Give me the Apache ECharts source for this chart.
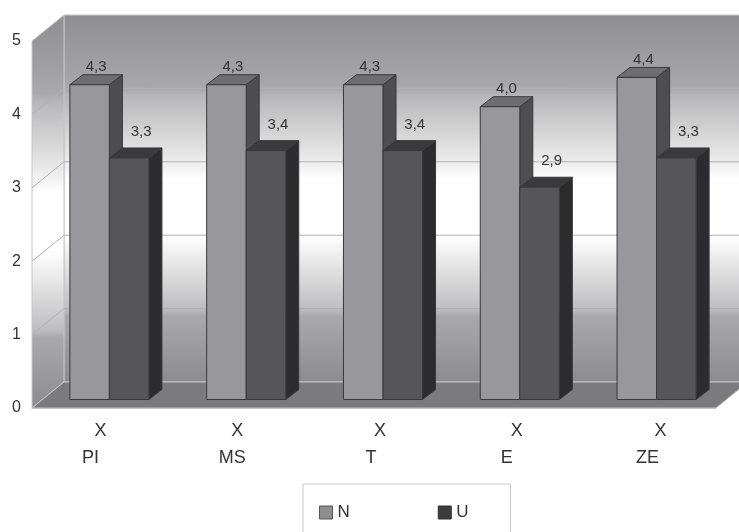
<!DOCTYPE html>
<html>
<head>
<meta charset="utf-8">
<style>html,body{margin:0;background:#fff}#chart{width:739px;height:532px}</style>
<script src="https://cdn.jsdelivr.net/npm/echarts@6/dist/echarts.min.js"></script>
</head>
<body>
<div id="chart"></div>
<script>
const categories = ['PI', 'MS', 'T', 'E', 'ZE'];
const nValues = [4.3, 4.3, 4.3, 4.0, 4.4];
const uValues = [3.3, 3.4, 3.4, 2.9, 3.3];
const yTicks = [0, 1, 2, 3, 4, 5];

// fake 3D: how far the back wall and the bar tops are pushed
const wallDepth = [32, -26];
const barDepth = [13, -10];
const barShare = 0.289;
const font = '"Liberation Sans", Arial, sans-serif';

// x labels in the picture are not centred on their bands
const markShift = [0, 0, 6, 6, 13];
const nameShift = [-10, -5, -3, -4, 0];

const pad = s => (s >= 0 ? [0, 0, 0, 2 * s] : [0, -2 * s, 0, 0]);
const rich = {};
categories.forEach((c, i) => {
  rich['x' + i] = { fontSize: 18, lineHeight: 27, color: '#333', fontFamily: font, padding: pad(markShift[i]) };
  rich['n' + i] = { fontSize: 18, lineHeight: 27, color: '#333', fontFamily: font, padding: pad(nameShift[i]) };
});

const wallFill = () => new echarts.graphic.LinearGradient(0, 0, 0, 1, [
  { offset: 0, color: '#8e8e90' },
  { offset: 0.2, color: '#a9a9ab' },
  { offset: 0.22, color: '#b6b6b8' },
  { offset: 0.4, color: '#ececec' },
  { offset: 0.45, color: '#ffffff' },
  { offset: 0.6, color: '#ffffff' },
  { offset: 0.8, color: '#bebec0' },
  { offset: 0.82, color: '#a9a9ab' },
  { offset: 1, color: '#8c8c8e' }
]);

function renderWalls(params) {
  const r = params.coordSys;
  const [dx, dy] = wallDepth;
  const l = r.x, t = r.y, b = r.y + r.height, e = r.x + r.width;
  const poly = (points, fill) => ({
    type: 'polygon',
    shape: { points },
    style: { fill, stroke: '#c4c4c6', lineWidth: 1 }
  });
  return {
    type: 'group',
    children: [
      poly([[l + dx, t + dy], [e + dx, t + dy], [e + dx, b + dy], [l + dx, b + dy]], wallFill()),
      poly([[l, t], [l + dx, t + dy], [l + dx, b + dy], [l, b]], wallFill()),
      poly([[l, b], [l + dx, b + dy], [e + dx, b + dy], [e, b]], '#7b7b7d')
    ]
  };
}

function renderGridLine(params, api) {
  const p = api.coord([0, api.value(1)]);
  const r = params.coordSys;
  const [dx, dy] = wallDepth;
  return {
    type: 'polyline',
    shape: { points: [[r.x, p[1]], [r.x + dx, p[1] + dy], [r.x + r.width + dx, p[1] + dy]] },
    style: { fill: null, stroke: '#b2b2b4', lineWidth: 1 }
  };
}

function barRenderer(side, colors, labelDx, labelDy) {
  return (params, api) => {
    const top = api.coord([api.value(0), api.value(1)]);
    const base = api.coord([api.value(0), 0]);
    const w = api.size([1, 0])[0] * barShare;
    const x0 = side === 0 ? top[0] - w : top[0];
    const x1 = x0 + w;
    const [dx, dy] = barDepth;
    const stroke = { stroke: '#39393b', lineWidth: 1, lineJoin: 'round' };
    return {
      type: 'group',
      children: [
        { type: 'polygon', shape: { points: [[x1, top[1]], [x1 + dx, top[1] + dy], [x1 + dx, base[1] + dy], [x1, base[1]]] }, style: { fill: colors.side, ...stroke } },
        { type: 'polygon', shape: { points: [[x0, top[1]], [x0 + dx, top[1] + dy], [x1 + dx, top[1] + dy], [x1, top[1]]] }, style: { fill: colors.top, ...stroke } },
        { type: 'polygon', shape: { points: [[x0, top[1]], [x1, top[1]], [x1, base[1]], [x0, base[1]]] }, style: { fill: colors.front, ...stroke } },
        {
          type: 'text',
          style: {
            x: (x0 + x1) / 2 + labelDx,
            y: top[1] + dy + labelDy,
            text: api.value(1).toFixed(1).replace('.', ','),
            fill: '#333',
            font: '15px ' + font,
            textAlign: 'center',
            textVerticalAlign: 'middle'
          }
        }
      ]
    };
  };
}

const chart = echarts.init(document.getElementById('chart'), null, { renderer: 'canvas' });
chart.setOption({
  animation: false,
  backgroundColor: '#fff',
  legend: {
    left: 303,
    top: 484,
    padding: [20, 42, 20, 16],
    itemGap: 88,
    itemWidth: 13,
    itemHeight: 13,
    borderColor: '#c8c8c8',
    borderWidth: 1,
    icon: 'rect',
    textStyle: { fontSize: 17, color: '#333', fontFamily: font },
    data: [
      { name: 'N', itemStyle: { color: '#8e8e90', borderColor: '#555', borderWidth: 1 } },
      { name: 'U', itemStyle: { color: '#3c3c3e', borderColor: '#333', borderWidth: 1 } }
    ]
  },
  // front plane carries the axes, the second grid is the plane the bars stand on
  grid: [
    { left: 32, top: 41, width: 684, height: 367 },
    { left: 41, top: 33.5, width: 684, height: 366 }
  ],
  xAxis: [
    {
      gridIndex: 0,
      type: 'category',
      data: categories,
      axisLine: { lineStyle: { color: '#c4c4c6' } },
      axisTick: { length: 6, lineStyle: { color: '#c4c4c6' } },
      axisLabel: {
        interval: 0,
        margin: 10,
        formatter: (name, i) => `{x${i}|X}\n{n${i}|${name}}`,
        rich
      }
    },
    { gridIndex: 1, type: 'category', data: categories, show: false }
  ],
  yAxis: [
    {
      gridIndex: 0,
      type: 'value',
      min: 0,
      max: 5,
      interval: 1,
      splitLine: { show: false },
      axisLine: { show: false },
      axisTick: { show: false },
      axisLabel: { margin: 11, fontSize: 16, color: '#333', fontFamily: font }
    },
    { gridIndex: 1, type: 'value', min: 0, max: 5, interval: 1, show: false, splitLine: { show: false } }
  ],
  series: [
    {
      type: 'custom',
      xAxisIndex: 0,
      yAxisIndex: 0,
      silent: true,
      z: 1,
      renderItem: renderWalls,
      data: [[0, 0]]
    },
    {
      type: 'custom',
      xAxisIndex: 0,
      yAxisIndex: 0,
      silent: true,
      z: 2,
      renderItem: renderGridLine,
      encode: { x: 0, y: 1 },
      data: yTicks.slice(1, 5).map(v => [0, v])
    },
    {
      name: 'N',
      type: 'custom',
      xAxisIndex: 1,
      yAxisIndex: 1,
      z: 3,
      itemStyle: { color: '#8e8e90' },
      renderItem: barRenderer(0, { front: '#98989a', top: '#6e6e70', side: '#4e4e50' }, 6.5, -8),
      encode: { x: 0, y: 1 },
      data: nValues.map((v, i) => [i, v])
    },
    {
      name: 'U',
      type: 'custom',
      xAxisIndex: 1,
      yAxisIndex: 1,
      z: 4,
      itemStyle: { color: '#3c3c3e' },
      renderItem: barRenderer(1, { front: '#565658', top: '#3a3a3c', side: '#2c2c2e' }, 12, -16),
      encode: { x: 0, y: 1 },
      data: uValues.map((v, i) => [i, v])
    }
  ]
});
</script>
</body>
</html>
